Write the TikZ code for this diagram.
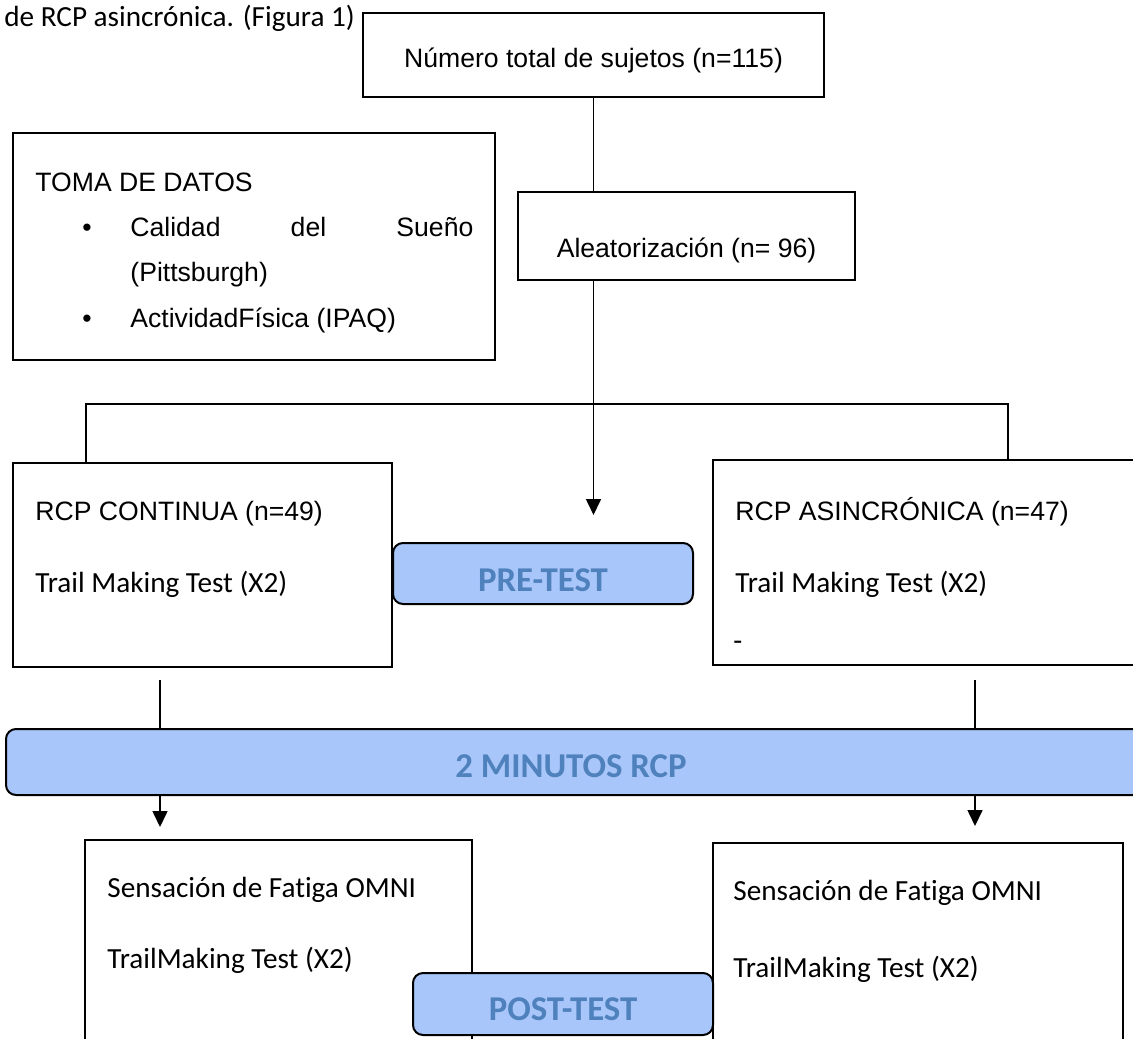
\documentclass[tikz,border=0pt]{standalone}
\usepackage{fontspec}
\setmainfont{Liberation Sans}
\newfontfamily\calfont[Ligatures={NoCommon,NoRare}]{Carlito}
\usetikzlibrary{arrows.meta,fit}
\definecolor{phasefill}{RGB}{168,198,250}
\definecolor{phasetext}{RGB}{79,129,189}

\begin{document}
\begin{tikzpicture}[
        x=0.5pt, y=-0.5pt,
        plainbox/.style={rectangle, draw, line width=1pt, inner sep=0pt},
        phasebox/.style={rectangle, draw, line width=1pt, rounded corners=5pt, fill=phasefill, inner sep=0pt},
        arial/.style={font=\fontsize{13.3pt}{16pt}\selectfont, anchor=base west, inner sep=0pt},
        calibri/.style={font=\calfont\fontsize{14.6pt}{17pt}\selectfont, anchor=base west, inner sep=0pt},
        phasetxt/.style={font=\calfont\bfseries\fontsize{17.4pt}{20pt}\selectfont, text=phasetext, anchor=base, inner sep=0pt},
        link/.style={line width=0.8pt},
        arr/.style={line width=0.8pt, -{Triangle[width=7.5pt,length=8pt]}}
    ]
        \useasboundingbox (0,0) rectangle (1133,1038);
        \clip (0,0) rectangle (1133,1038);

        % Caption line above the chart
        \node[calibri] (title) at (4,27) {de RCP asincrónica. (Figura 1)};

        % Boxes
        \node[plainbox, fit={(363,13) (824,97)}] (total) {};
        \node[plainbox, fit={(518,192) (855,280)}] (alea) {};
        \node[plainbox, fit={(13,133) (495,360)}] (toma) {};
        \node[plainbox, fit={(13,463) (392,667)}] (cont) {};
        \node[plainbox, fit={(713,460) (1145,665)}] (asin) {};
        \node[phasebox, fit={(393,543) (693,604)}] (pre) {};
        \node[phasebox, fit={(6,729) (1145,795)}] (mins) {};
        \node[plainbox, fit={(85,840) (472,1060)}] (sensL) {};
        \node[plainbox, fit={(713,843) (1123,1060)}] (sensR) {};
        \node[phasebox, fit={(413,973) (713,1035)}] (post) {};

        % Helper points for the branches
        \coordinate (splitL) at (86,404);
        \coordinate (splitR) at (1008,404);
        \coordinate (lx) at (160,0);
        \coordinate (rx) at (975,0);

        % Connections
        \draw[link] (total.south) -- (total.south |- alea.north);
        \draw[arr, shorten >=13.5pt] (total.south |- alea.south) -- (total.south |- pre.north);
        \draw[link] (cont.north -| splitL) -- (splitL) -- (splitR) -- (asin.north -| splitR);
        \draw[line width=1.1pt] (518,404) -- (575,404);
        \draw[link, shorten <=6pt] (cont.south -| lx) -- (mins.north -| lx);
        \draw[link, shorten <=7pt] (asin.south -| rx) -- (mins.north -| rx);
        \draw[arr, shorten >=6pt] (mins.south -| lx) -- (sensL.north -| lx);
        \draw[arr, shorten >=8pt] (mins.south -| rx) -- (sensR.north -| rx);

        % Texts of the boxes
        \node[arial, anchor=base] (totaltxt) at (593.5,68) {Número total de sujetos (n=115)};
        \node[arial, anchor=base] (aleatxt) at (686.5,257) {Aleatorización (n= 96)};

        \node[arial] (tomatxt) at (35,191) {TOMA DE DATOS};
        \node[arial, anchor=base] (bulletA) at (87,236) {\textbullet};
        \node[arial] (sleep) at (130,236) {\makebox[171.5pt][s]{Calidad del Sueño}};
        \node[arial] (sleepb) at (130,281) {(Pittsburgh)};
        \node[arial, anchor=base] (bulletB) at (87,327) {\textbullet};
        \node[arial] (ipaq) at (130,327) {ActividadFísica (IPAQ)};

        \node[arial] (conttxt) at (35,520) {RCP CONTINUA (n=49)};
        \node[calibri] (conttmt) at (35,592) {Trail Making Test (X2)};
        \node[arial] (asintxt) at (735,520) {RCP ASINCRÓNICA (n=47)};
        \node[calibri] (asintmt) at (735,592) {Trail Making Test (X2)};
        \node[calibri] (asindash) at (733,650) {-};

        \node[calibri] (sensLa) at (107,897) {Sensación de Fatiga OMNI};
        \node[calibri] (sensLb) at (107,968) {TrailMaking Test (X2)};
        \node[calibri] (sensRa) at (733,900) {Sensación de Fatiga OMNI};
        \node[calibri] (sensRb) at (733,977) {TrailMaking Test (X2)};

        % Phase labels
        \node[phasetxt] (pretxt) at (543,591) {PRE-TEST};
        \node[phasetxt] (minstxt) at (571,777) {2 MINUTOS RCP};
        \node[phasetxt] (posttxt) at (563,1020) {POST-TEST};

    \end{tikzpicture}
\end{document}
